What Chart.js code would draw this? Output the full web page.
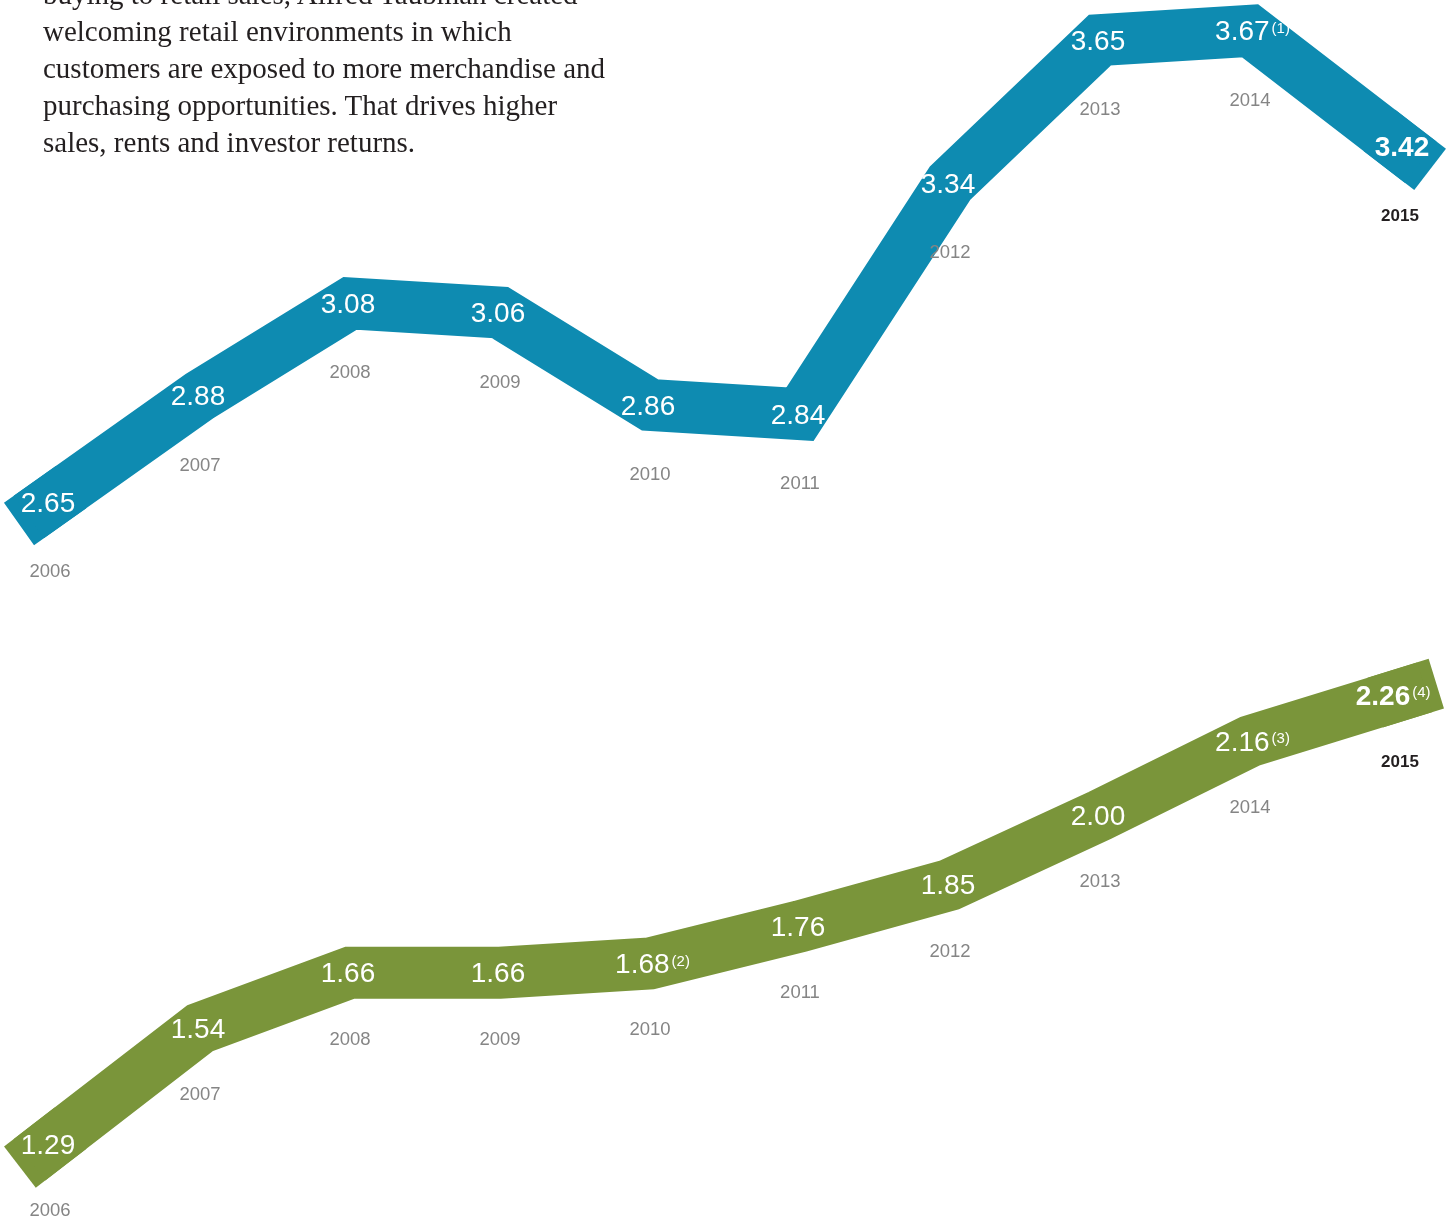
<!DOCTYPE html>
<html>
<head>
<meta charset="utf-8">
<script src="https://cdn.jsdelivr.net/npm/chart.js@4.4.1/dist/chart.umd.min.js"></script>
<style>
  html, body { margin: 0; padding: 0; background: #fff; }
  body { width: 1447px; height: 1218px; position: relative; overflow: hidden; }
  canvas { position: absolute; left: 0; }
  #blueChart { top: 0; }
  #greenChart { top: 600px; }
  #intro {
    position: absolute; left: 43px; top: -24px; width: 640px;
    font-family: "Liberation Serif", serif; font-size: 29px; line-height: 37px;
    color: #231f20;
  }
</style>
</head>
<body>
<canvas id="blueChart" width="1447" height="600"></canvas>
<canvas id="greenChart" width="1447" height="618"></canvas>
<div id="intro">buying to retail sales, Alfred Taubman created<br>welcoming retail environments in which<br>customers are exposed to more merchandise and<br>purchasing opportunities. That drives higher<br>sales, rents and investor returns.</div>
<script>
const years = ["2006", "2007", "2008", "2009", "2010", "2011", "2012", "2013", "2014", "2015"];

const topValues = [2.65, 2.88, 3.08, 3.06, 2.86, 2.84, 3.34, 3.65, 3.67, 3.42];
const topNotes = ["", "", "", "", "", "", "", "", "(1)", ""];

const bottomValues = [1.29, 1.54, 1.66, 1.66, 1.68, 1.76, 1.85, 2.00, 2.16, 2.26];
const bottomNotes = ["", "", "", "", "(2)", "", "", "", "(3)", "(4)"];

const labelFont = '"Liberation Sans", Arial, sans-serif';

// the ribbon runs a little past the first and last year
const ribbonEnds = {
  id: "ribbonEnds",
  beforeDatasetsDraw(chart) {
    const pts = chart.getDatasetMeta(0).data;
    const ds = chart.data.datasets[0];
    const ctx = chart.ctx;
    const ends = [[pts[0], pts[1]], [pts[pts.length - 1], pts[pts.length - 2]]];
    ctx.save();
    ctx.strokeStyle = ds.borderColor;
    ctx.lineWidth = ds.borderWidth;
    ctx.lineCap = "square";
    ends.forEach(([a, b]) => {
      const dx = a.x - b.x, dy = a.y - b.y;
      const len = Math.sqrt(dx * dx + dy * dy);
      ctx.beginPath();
      ctx.moveTo(a.x, a.y);
      ctx.lineTo(a.x + dx / len * 12, a.y + dy / len * 12);
      ctx.stroke();
    });
    ctx.restore();
  }
};

// white numbers on the ribbon, grey years under it
const ribbonLabels = {
  id: "ribbonLabels",
  afterDatasetsDraw(chart, args, opts) {
    const ctx = chart.ctx;
    const meta = chart.getDatasetMeta(0);
    const values = chart.data.datasets[0].data;
    const last = values.length - 1;
    ctx.save();
    meta.data.forEach((pt, i) => {
      const isLast = i === last;
      const text = values[i].toFixed(2);
      const note = opts.notes[i];
      ctx.font = (isLast ? "bold " : "") + "28px " + labelFont;
      const w = ctx.measureText(text).width;
      ctx.font = "15px " + labelFont;
      const nw = note ? ctx.measureText(note).width + 3 : 0;
      let cx = pt.x - 2;
      if (note) cx = pt.x + 3 - nw / 2;
      if (isLast && note) cx = pt.x - 17;
      if (isLast && !note) cx = pt.x + 2;

      ctx.fillStyle = "#ffffff";
      ctx.textAlign = "center";
      ctx.textBaseline = "middle";
      ctx.font = (isLast ? "bold " : "") + "28px " + labelFont;
      ctx.fillText(text, cx, pt.y + 2);
      if (note) {
        ctx.textAlign = "left";
        ctx.font = "15px " + labelFont;
        ctx.fillText(note, cx + w / 2 + 2, pt.y - 2);
      }

      ctx.textAlign = "center";
      ctx.textBaseline = "middle";
      if (isLast) {
        ctx.font = "bold 17px " + labelFont;
        ctx.fillStyle = "#231f20";
      } else {
        ctx.font = "18.5px " + labelFont;
        ctx.fillStyle = "#858585";
      }
      ctx.fillText(chart.data.labels[i], pt.x, pt.y + opts.yearGap);
    });
    ctx.restore();
  }
};

function makeRibbon(id, values, notes, color, yMin, yMax, yearGap) {
  return new Chart(document.getElementById(id), {
    type: "line",
    data: {
      labels: years,
      datasets: [{
        data: values,
        borderColor: color,
        borderWidth: 52,
        borderJoinStyle: "miter",
        borderCapStyle: "square",
        tension: 0,
        pointRadius: 0,
        fill: false,
        clip: false
      }]
    },
    options: {
      responsive: false,
      animation: false,
      layout: { padding: { left: 50, right: 47, top: 0, bottom: 0 } },
      scales: {
        x: { display: false, offset: false },
        y: { display: false, min: yMin, max: yMax }
      },
      plugins: {
        legend: { display: false },
        tooltip: { enabled: false },
        ribbonLabels: { notes: notes, yearGap: yearGap }
      }
    },
    plugins: [ribbonEnds, ribbonLabels]
  });
}

makeRibbon("blueChart", topValues, topNotes, "#0e8bb1", 2.4379, 3.7366, 70);
makeRibbon("greenChart", bottomValues, bottomNotes, "#7a953a", 1.130, 2.465, 67);
</script>
</body>
</html>
